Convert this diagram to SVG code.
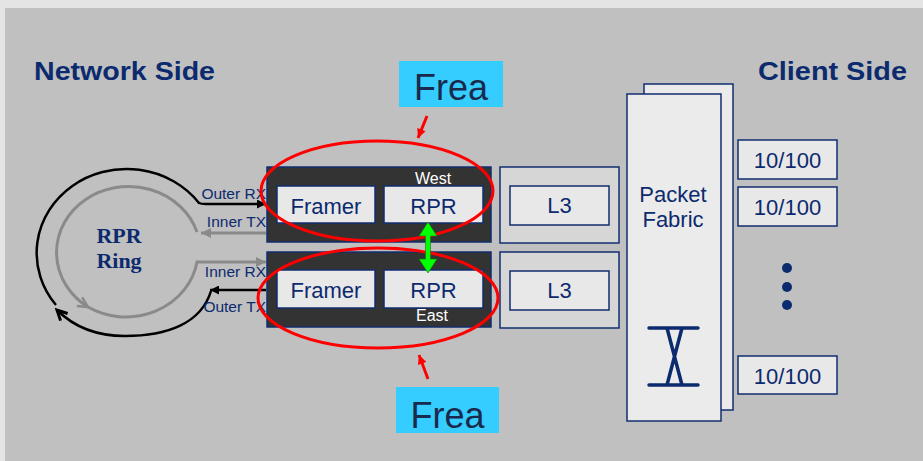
<svg xmlns="http://www.w3.org/2000/svg" width="923" height="461" viewBox="0 0 923 461">
<defs>
<style>
.t{font-family:"Liberation Sans",Arial,sans-serif;fill:#0c2a6e}
.title{font-weight:bold;font-size:26px}
.box{fill:#e8e8e8;stroke:#102e70;stroke-width:1.5}
.dark{fill:#333333;stroke:#102e70;stroke-width:1.5}
.l3o{fill:#d6d6d6;stroke:#102e70;stroke-width:1.5}
.pf{fill:#ebebeb;stroke:#102e70;stroke-width:1.5}
.lbl{font-size:22px;text-anchor:middle}
.port{font-size:15.5px;text-anchor:end}
.wl{font-family:"Liberation Sans",Arial,sans-serif;font-size:16px;fill:#ffffff;text-anchor:middle}
.frea{fill:#35ccff}
.freat{font-family:"Liberation Sans",Arial,sans-serif;font-size:36px;fill:#1a2a4c;text-anchor:middle}
.red{fill:none;stroke:#ff0000;stroke-width:3}
.blk{fill:none;stroke:#000000;stroke-width:2.5}
.gry{fill:none;stroke:#8a8a8a;stroke-width:3}
.ring{font-family:"Liberation Serif","Times New Roman",serif;font-weight:bold;font-size:22px;fill:#0c2a6e;text-anchor:middle}
</style>
<marker id="ab" viewBox="0 0 10 10" refX="10" refY="5" markerWidth="11" markerHeight="9" markerUnits="userSpaceOnUse" orient="auto"><path d="M0,0 L10,5 L0,10 z" fill="#000000"/></marker>
<marker id="ag" viewBox="0 0 10 10" refX="10" refY="5" markerWidth="12" markerHeight="10" markerUnits="userSpaceOnUse" orient="auto"><path d="M0,0 L10,5 L0,10 z" fill="#8a8a8a"/></marker>
<marker id="cb" viewBox="-3 -3 16 16" refX="10" refY="5" markerWidth="16" markerHeight="16" markerUnits="userSpaceOnUse" orient="auto"><path d="M0,0 L10,5 L0,10" fill="none" stroke="#000000" stroke-width="3"/></marker>
<marker id="cg" viewBox="-3 -3 16 16" refX="10" refY="5" markerWidth="16" markerHeight="16" markerUnits="userSpaceOnUse" orient="auto"><path d="M0,0 L10,5 L0,10" fill="none" stroke="#8a8a8a" stroke-width="2.5"/></marker>
<marker id="ar" viewBox="0 0 10 10" refX="10" refY="5" markerWidth="10" markerHeight="9" markerUnits="userSpaceOnUse" orient="auto"><path d="M0,0 L10,5 L0,10 z" fill="#ff0000"/></marker>
</defs>

<rect x="0" y="0" width="923" height="461" fill="#e4e4e4"/>
<rect x="5" y="8" width="918" height="453" fill="#c0c0c0"/>

<text class="t title" x="34" y="80" textLength="181" lengthAdjust="spacingAndGlyphs">Network Side</text>
<text class="t title" x="907" y="80" text-anchor="end" textLength="149" lengthAdjust="spacingAndGlyphs">Client Side</text>

<g id="connectors">
  <!-- outer ring (black) -->
  <path class="blk" d="M56,305 A90,84 0 1 1 199,203 Q201,204 206,204 L266,204" marker-end="url(#ab)"/>
  <path class="blk" d="M266,290 L210,290"  marker-end="url(#ab)"/>
  <path class="blk" d="M211,291 C201,324 166,336 125,336 C96,336 73,326 57,310" marker-end="url(#cb)"/>
  <!-- inner ring (gray) -->
  <path class="gry" d="M266,233 L201,233" marker-end="url(#ag)"/>
  <path class="gry" d="M197,232 A72,66 0 1 0 88,307" marker-end="url(#cg)"/>
  <path class="gry" d="M88,307 A72,66 0 0 0 197,262 L266,262" marker-end="url(#ag)"/>
</g>

<g id="ring-label">
  <text class="ring" x="119" y="243">RPR</text>
  <text class="ring" x="119" y="268">Ring</text>
</g>

<g id="port-labels">
  <text class="t port" x="266" y="199">Outer RX</text>
  <text class="t port" x="266" y="227">Inner TX</text>
  <text class="t port" x="266" y="277">Inner RX</text>
  <text class="t port" x="266" y="312">Outer TX</text>
</g>

<g id="west-card">
  <rect class="dark" x="267" y="167" width="224" height="75"/>
  <text class="wl" x="433" y="184">West</text>
</g>
<g id="west-framer">
  <rect class="box" x="277" y="186" width="98" height="37"/>
  <text class="t lbl" x="326" y="214">Framer</text>
</g>
<g id="west-rpr">
  <rect class="box" x="384" y="186" width="99" height="37"/>
  <text class="t lbl" x="433.5" y="214">RPR</text>
</g>

<g id="east-card">
  <rect class="dark" x="267" y="252" width="224" height="75"/>
  <text class="wl" x="432" y="321">East</text>
</g>
<g id="east-framer">
  <rect class="box" x="277" y="270" width="98" height="38"/>
  <text class="t lbl" x="326" y="298">Framer</text>
</g>
<g id="east-rpr">
  <rect class="box" x="384" y="270" width="99" height="38"/>
  <text class="t lbl" x="433.5" y="298">RPR</text>
</g>

<g id="l3-top">
  <rect class="l3o" x="500" y="167" width="119" height="76"/>
  <rect class="box" x="510" y="186" width="99" height="39"/>
  <text class="t lbl" x="559.5" y="213">L3</text>
</g>
<g id="l3-bottom">
  <rect class="l3o" x="500" y="252" width="119" height="76"/>
  <rect class="box" x="510" y="271" width="99" height="39"/>
  <text class="t lbl" x="559.5" y="298">L3</text>
</g>

<g id="packet-fabric">
  <rect class="pf" x="644" y="84" width="89" height="326"/>
  <rect class="pf" x="627" y="94" width="94" height="327"/>
  <text class="t lbl" x="673" y="202">Packet</text>
  <text class="t lbl" x="673" y="227">Fabric</text>
  <g fill="none" stroke="#0c2a6e" stroke-width="3.5" stroke-linecap="round">
    <path d="M649,328 L698,328 M649,385 L698,385 M667,328 L682,385 M682,328 L667,385"/>
  </g>
</g>

<g id="port-1">
  <rect class="box" x="738" y="140" width="99" height="39"/>
  <text class="t lbl" x="787.5" y="168">10/100</text>
</g>
<g id="port-2">
  <rect class="box" x="738" y="187" width="99" height="39"/>
  <text class="t lbl" x="787.5" y="215">10/100</text>
</g>
<g id="ellipsis" fill="#0c2a6e">
  <circle cx="787" cy="268" r="5"/>
  <circle cx="787" cy="287" r="5"/>
  <circle cx="787" cy="305" r="5"/>
</g>
<g id="port-n">
  <rect class="box" x="738" y="356" width="99" height="38"/>
  <text class="t lbl" x="787.5" y="384">10/100</text>
</g>

<g id="highlights">
  <ellipse class="red" cx="377" cy="191" rx="116" ry="50"/>
  <ellipse class="red" cx="378" cy="298" rx="120" ry="50"/>
  <path class="red" d="M427,116 L418,138" marker-end="url(#ar)"/>
  <path class="red" d="M428,379 L419,355" marker-end="url(#ar)"/>
</g>

<g id="frea-top">
  <rect class="frea" x="399" y="61" width="104" height="46"/>
  <text class="freat" x="451" y="100">Frea</text>
</g>
<g id="frea-bottom">
  <rect class="frea" x="396" y="387" width="103" height="46"/>
  <text class="freat" x="447.5" y="428">Frea</text>
</g>

<g id="green-link">
  <polygon points="428,222 437,236 430.5,236 430.5,259 437,259 428,273 419,259 425.5,259 425.5,236 419,236" fill="#00ff00" stroke="#1c6b1c" stroke-width="0.6"/>
</g>
</svg>
